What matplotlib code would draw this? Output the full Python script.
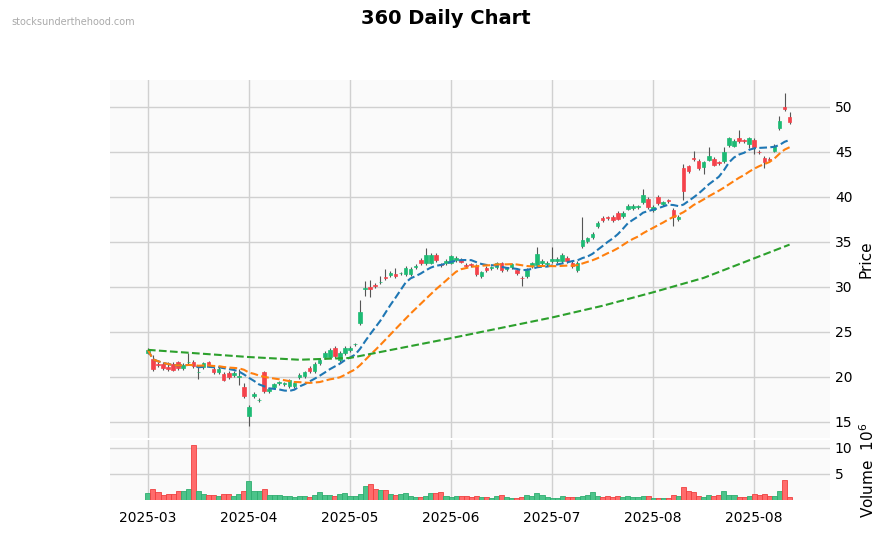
import numpy as np
import pandas as pd
import matplotlib
matplotlib.use("Agg")
import matplotlib.pyplot as plt
from matplotlib.patches import Rectangle

# open, close per trading day (index 0..127)
opens = [22.7,22.0,21.4,21.45,21.1,21.4,21.6,21.0,21.6,21.7,20.5,21.1,21.6,20.9,20.5,20.3,20.4,20.2,20.0,18.9,15.7,17.9,17.4,20.5,18.4,
         18.85,19.3,19.2,19.0,19.0,19.95,20.1,21.0,20.6,21.55,22.2,22.25,23.2,21.9,22.65,23.0,23.6,26.0,29.8,29.95,30.25,30.5,31.15,31.3,31.4,31.5,
         31.45,31.4,32.2,33.0,32.6,32.7,33.6,32.5,32.65,32.7,33.0,33.0,32.4,32.5,32.3,31.2,32.1,32.1,32.2,32.6,32.0,32.2,31.9,31.0,31.2,32.3,32.4,32.65,32.5,32.9,32.9,32.85,33.2,
         32.65,31.9,34.5,35.1,35.5,36.8,37.7,37.7,37.8,38.2,37.9,38.7,38.75,38.85,39.45,39.8,38.5,40.0,39.2,39.6,38.6,37.5,43.2,43.4,44.3,44.0,43.3,44.15,44.2,43.85,43.95,45.8,45.7,46.5,46.25,45.9,46.3,45.0,44.3,44.2,45.15,47.65,50.0,48.9]
closes = [23.0,20.9,21.3,21.0,20.9,20.8,21.0,21.3,21.7,21.2,20.5,21.5,21.3,20.5,20.9,19.7,20.0,20.4,20.0,17.9,16.7,18.1,17.4,18.4,18.6,
          19.15,19.3,19.2,19.6,19.3,20.25,20.5,20.6,21.4,21.9,22.7,23.0,22.3,22.7,23.2,23.2,23.6,27.2,29.8,29.75,30.05,30.55,31.0,31.55,31.2,31.5,
          32.1,32.0,32.3,32.6,33.6,33.6,33.0,32.45,32.85,33.4,33.2,32.8,32.35,32.45,31.4,31.6,31.9,32.1,32.6,31.9,32.0,32.5,31.55,30.95,31.85,32.6,33.7,32.85,32.65,33.15,33.1,33.6,32.85,
          32.3,32.65,35.2,35.4,35.85,37.1,37.4,37.65,37.4,37.6,38.2,39.0,39.0,38.95,40.2,38.9,38.9,39.3,39.4,39.55,37.8,37.8,40.7,42.9,44.25,43.2,43.85,44.5,43.6,43.8,45.0,46.5,46.25,46.2,46.2,46.5,45.5,44.95,43.85,44.15,45.7,48.45,49.75,48.3]
highs_extra = {1:0.2,4:0.4,8:0.8,10:0.5,18:0.7,20:0.0,19:0.2,43:0.7,44:0.6,46:0.5,47:0.6,49:0.5,42:1.1,55:0.5,77:0.5,80:1.1,86:2.4,98:0.5,106:0.3,
               108:0.6,111:0.8,114:0.3,117:0.7,126:1.3,125:0.3,127:0.3}
lows_extra = {20:1.0,10:0.5,18:0.7,43:0.6,44:0.7,74:0.7,104:0.8,106:0.8,110:0.5,122:0.4,119:0.3,120:0.5}
volumes = [1.35,2.2,1.5,0.9,1.1,1.1,1.7,1.7,2.1,10.5,1.7,1.15,1.0,1.0,0.8,1.15,1.15,0.8,1.15,1.7,3.65,1.7,1.7,2.1,1.0,1.0,1.0,0.8,0.8,0.6,
           0.8,0.8,0.6,1.0,1.5,1.0,1.0,0.8,1.15,1.35,0.8,0.8,1.15,2.7,3.1,2.2,1.9,1.9,1.15,1.0,1.15,1.35,0.8,0.6,0.6,0.8,1.35,1.35,1.5,0.8,
           0.6,0.8,0.8,0.8,0.6,0.8,0.6,0.6,0.4,0.8,1.0,0.6,0.4,0.4,0.6,1.0,0.8,1.35,1.0,0.6,0.4,0.4,0.8,0.6,0.6,0.6,0.8,1.0,1.5,0.8,
           0.6,0.8,0.6,0.8,0.6,0.8,0.6,0.6,0.8,0.8,0.3,0.3,0.3,0.3,1.0,0.8,2.5,1.7,1.5,0.8,0.6,1.0,0.8,1.0,1.7,1.0,1.0,0.6,0.6,0.8,
           1.15,1.0,1.15,0.8,0.8,1.7,3.85,0.6]
green_ma_idx = [0,20,30,40,60,80,90,100,110,127]
green_ma_val = [23.0,22.2,21.9,22.1,24.3,26.6,27.9,29.4,31.0,34.7]
xtick_pos = [0,20,40,60,80,100,120]
xtick_labels = ["2025-03","2025-04","2025-05","2025-06","2025-07","2025-08","2025-08"]

n = len(closes)
o = np.array(opens); c = np.array(closes)
h = np.maximum(o, c) + 0.2 + np.array([highs_extra.get(i, 0) for i in range(n)])
l = np.minimum(o, c) - 0.2 - np.array([lows_extra.get(i, 0) for i in range(n)])
x = np.arange(n)
up = c >= o
ma10 = pd.Series(c).rolling(10, min_periods=1).mean()
ma20 = pd.Series(c).rolling(20, min_periods=1).mean()

fig = plt.figure(figsize=(8.91, 5.33), dpi=100)
W, H = 891, 533
ax = fig.add_axes([110/W, 1-438/H, 720/W, 358/H])
axv = fig.add_axes([110/W, 1-500/H, 720/W, 60/H], sharex=ax)

upc, dnc = "#1dbb74", "#f5424b"
for a in (ax, axv):
    a.set_facecolor("#fafafa")
    for s in a.spines.values():
        s.set_visible(False)
    a.grid(True, color="#d0d0d0", linewidth=1)
    a.set_axisbelow(True)
    a.yaxis.tick_right()
    a.yaxis.set_label_position("right")
    a.tick_params(length=0, labelsize=10)

for i in range(n):
    col = upc if up[i] else dnc
    ax.vlines(x[i], l[i], h[i], color="#555555", linewidth=0.8, zorder=2)
    b = min(o[i], c[i]); hh = max(abs(c[i]-o[i]), 0.08)
    ax.add_patch(Rectangle((x[i]-0.35, b), 0.7, hh, facecolor=col, edgecolor=col, linewidth=0.5, zorder=3))

ax.plot(x, ma10, "--", color="#1f77b4", lw=1.5, zorder=4)
ax.plot(x, ma20, "--", color="#ff7f0e", lw=1.5, zorder=4)
ax.plot(green_ma_idx, green_ma_val, "--", color="#2ca02c", lw=1.5, zorder=4)

vcol = ["#4cc38a" if u else "#ff6b6b" for u in up]
vedge = ["#2fae6f" if u else "#f04040" for u in up]
axv.bar(x, volumes[:n], width=1.0, color=vcol, edgecolor=vedge, linewidth=0.6)

ax.set_ylim(13.2, 53.0)
ax.set_yticks([15,20,25,30,35,40,45,50])
ax.set_ylabel("Price", fontsize=11)
ax.set_xlim(-7.5, 135)
plt.setp(ax.get_xticklabels(), visible=False)
axv.set_ylim(0, 11.5)
axv.set_yticks([5, 10])
axv.set_ylabel("Volume  $10^6$", fontsize=11)
axv.set_xticks(xtick_pos)
axv.set_xticklabels(xtick_labels, fontsize=10)
axv.tick_params(axis="x", pad=8)

fig.text(0.5, 1-18/H, "360 Daily Chart", ha="center", va="center", fontsize=14, fontweight="bold")
fig.text(11/W, 1-22/H, "stocksunderthehood.com", ha="left", va="center", fontsize=7, color="#aaaaaa")
fig.savefig("out.png", dpi=100)
